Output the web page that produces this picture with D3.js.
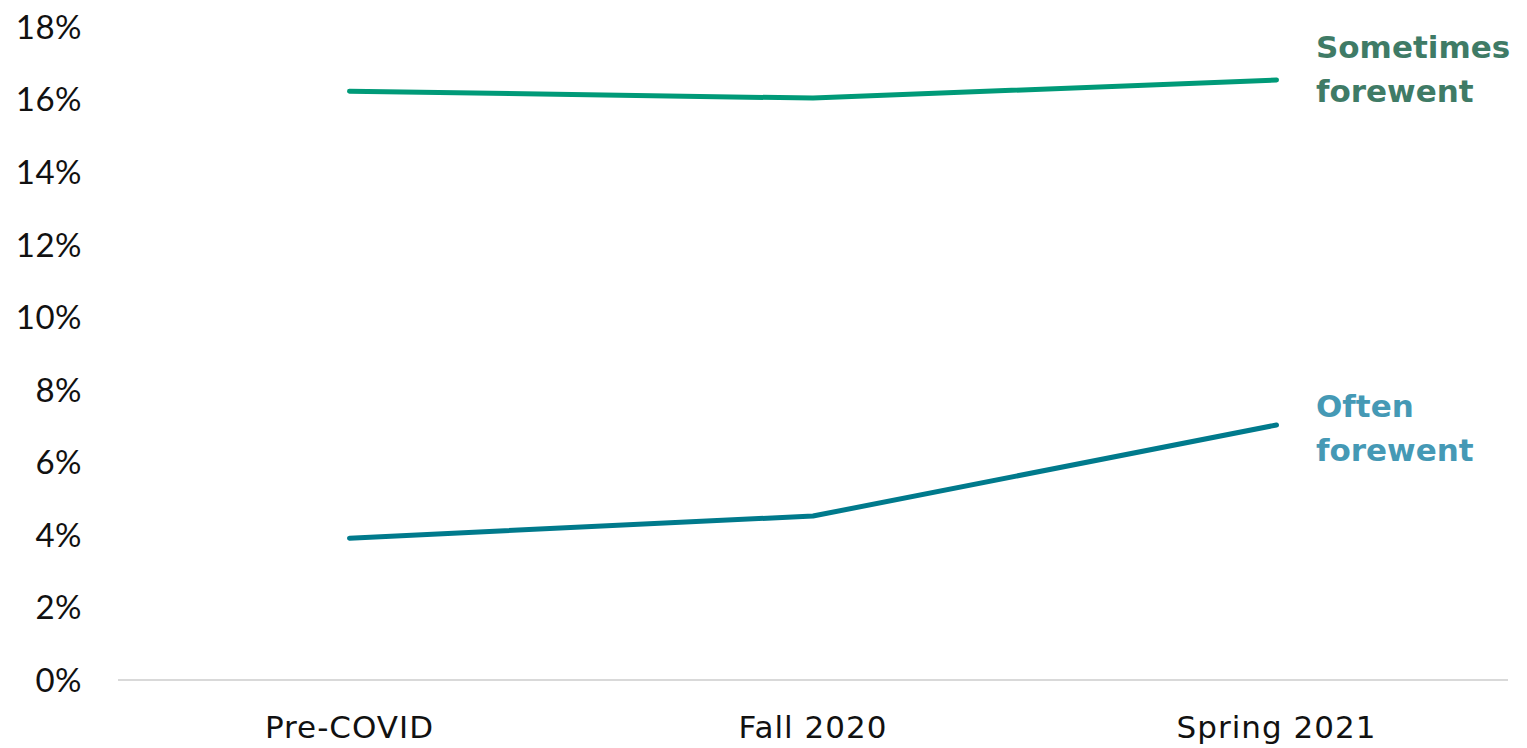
<!DOCTYPE html>
<html><head><meta charset="utf-8">
<script src="https://cdn.jsdelivr.net/npm/d3@7"></script>
<style>body{margin:0;background:#fff}svg{display:block}</style>
</head><body><svg id="c" width="1527" height="748"></svg>
<script>
const categories = ["Pre-COVID", "Fall 2020", "Spring 2021"];
const sometimesValues = [16.23, 16.04, 16.54];
const oftenValues = [3.91, 4.52, 7.03];
const yTicks = [0, 2, 4, 6, 8, 10, 12, 14, 16, 18];
const seriesNames = ["Sometimes\nforewent", "Often\nforewent"];

const svg = d3.select("#c");
const x = d3.scalePoint().domain(categories).range([349.5, 1276.5]);
const y = d3.scaleLinear().domain([0, 18]).range([680, 27]);

svg.append("line").attr("x1", 118).attr("x2", 1508).attr("y1", y(0)).attr("y2", y(0))
  .attr("stroke", "#d9d9d9").attr("stroke-width", 2);

svg.append("g").selectAll("text").data(yTicks).join("text")
  .attr("x", 82).attr("y", d => y(d)).attr("dy", "0.36em").attr("text-anchor", "end")
  .attr("font-family", "Lato, sans-serif").attr("font-size", 33).attr("fill", "#111")
  .attr("letter-spacing", 0.5).text(d => d + "%");

svg.append("g").selectAll("text").data(categories).join("text")
  .attr("x", d => x(d)).attr("y", 738).attr("text-anchor", "middle")
  .attr("font-family", "'DejaVu Sans', sans-serif").attr("font-size", 31).attr("fill", "#111")
  .attr("letter-spacing", 1).text(d => d);

const series = [
  {vals: sometimesValues, line: "#009a78", label: "#3f7b66", name: seriesNames[0], off: -22},
  {vals: oftenValues, line: "#007a8c", label: "#4599b5", name: seriesNames[1], off: -8}
];
const line = d3.line().x((d, i) => x(categories[i])).y(d => y(d));
series.forEach(s => {
  svg.append("path").attr("d", line(s.vals)).attr("fill", "none")
    .attr("stroke", s.line).attr("stroke-width", 5).attr("stroke-linecap", "round").attr("stroke-linejoin", "round");
  const last = s.vals[s.vals.length - 1];
  const t = svg.append("text").attr("font-family", "'DejaVu Sans', sans-serif")
    .attr("font-size", 31).attr("font-weight", "bold").attr("fill", s.label);
  s.name.split("\n").forEach((l, i) => t.append("tspan").attr("x", 1316).attr("y", y(last) + s.off + i * 44).text(l));
});
</script></body></html>
